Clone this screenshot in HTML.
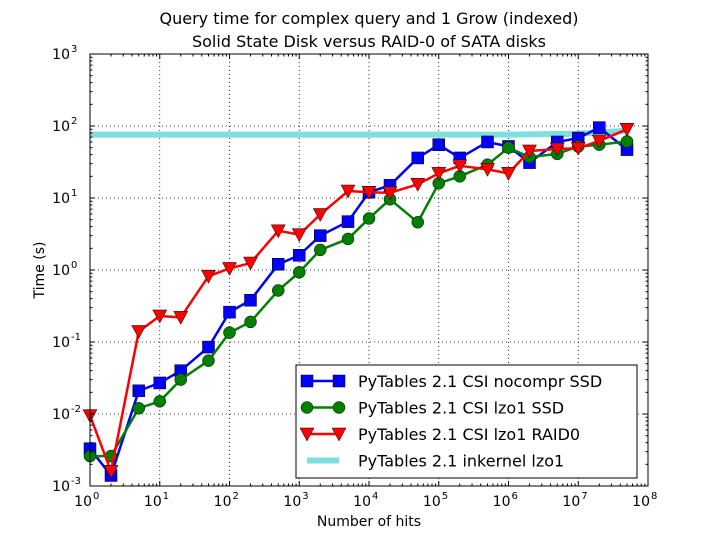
<!DOCTYPE html>
<html><head><meta charset="utf-8"><style>
body{margin:0;background:#fff}
svg text{font-family:"DejaVu Sans","Liberation Sans",sans-serif;fill:#000}
</style></head><body>
<svg id="chart" width="720" height="540" xmlns="http://www.w3.org/2000/svg">
<rect width="720" height="540" fill="#fff"/>
<text x="369" y="24" font-size="16" text-anchor="middle">Query time for complex query and 1 Grow (indexed)</text>
<text x="369" y="47" font-size="16" text-anchor="middle">Solid State Disk versus RAID-0 of SATA disks</text>
<g id="grid"></g>
<g id="series"></g>
<rect x="90" y="54" width="558" height="432" fill="none" stroke="#000" stroke-width="1"/>
<g id="ticks"></g>
<text x="369" y="526" font-size="14" text-anchor="middle">Number of hits</text>
<text x="44" y="270" font-size="14" text-anchor="middle" transform="rotate(-90 44 270)">Time (s)</text>
<g id="legend"></g>
</svg>
<script>
const xs=[1,2,5,10,20,50,100,200,500,1e3,2e3,5e3,1e4,2e4,5e4,1e5,2e5,5e5,1e6,2e6,5e6,1e7,2e7,5e7];
const blueVals=[0.0033,0.0014,0.021,0.027,0.04,0.085,0.26,0.38,1.2,1.6,3.0,4.7,12,15,36,55,36,60,52,31,60,68,95,47];
const greenVals=[0.0026,0.0026,0.012,0.015,0.03,0.055,0.135,0.19,0.52,0.93,1.9,2.7,5.2,9.6,4.6,16,20,29,50,37,41,52,55,61];
const redVals=[0.0095,0.0016,0.14,0.23,0.22,0.82,1.05,1.25,3.5,3.1,5.9,12.5,12,11.8,15.5,22,28,25,22,45,48,49,62,90];
const cyanX=[1,1e6,1e7,5e7];
const cyanVals=[76,76,78,86];
const xTickLabels=["0","1","2","3","4","5","6","7","8"];
const yTickLabels=["-3","-2","-1","0","1","2","3"];
const NS="http://www.w3.org/2000/svg";
const L=90,R=648,T=54,B=486;
const X=v=>L+(Math.log10(v)-0)/8*(R-L);
const Y=v=>B-(Math.log10(v)+3)/6*(B-T);
function mk(tag,attrs,parent){const e=document.createElementNS(NS,tag);for(const k in attrs)e.setAttribute(k,attrs[k]);parent.appendChild(e);return e;}
const grid=document.getElementById('grid'),ticks=document.getElementById('ticks'),ser=document.getElementById('series'),leg=document.getElementById('legend');
xTickLabels.forEach((lab,i)=>{const x=X(Math.pow(10,+lab));
 if(i>0&&i<8){const g=mk('line',{x1:x,x2:x,y1:T,y2:B,stroke:'#000','stroke-dasharray':'1,3','stroke-width':0.8},grid);}
 for(const [y1,y2] of [[B,B-5],[T,T+5]]) mk('line',{x1:x,x2:x,y1:y1,y2:y2,stroke:'#000'},ticks);
 if(i<8)for(let m=2;m<10;m++){const xm=X(m*Math.pow(10,+lab));mk('line',{x1:xm,x2:xm,y1:B,y2:B-2.5,stroke:'#000'},ticks);mk('line',{x1:xm,x2:xm,y1:T,y2:T+2.5,stroke:'#000'},ticks);}
 const t=mk('text',{x:x+2,y:B+20,'font-size':14,'text-anchor':'end'},ticks);t.textContent='10';
 
 const s=mk('text',{x:x+3,y:B+13,'font-size':10},ticks);s.textContent=lab;});
yTickLabels.forEach((lab,i)=>{const y=Y(Math.pow(10,+lab));
 if(i>0&&i<6){const g=mk('line',{x1:L,x2:R,y1:y,y2:y,stroke:'#000','stroke-dasharray':'1,3','stroke-width':0.8},grid);}
 mk('line',{x1:L,x2:L+5,y1:y,y2:y,stroke:'#000'},ticks);mk('line',{x1:R,x2:R-5,y1:y,y2:y,stroke:'#000'},ticks);
 if(i<6)for(let m=2;m<10;m++){const ym=Y(m*Math.pow(10,+lab));mk('line',{x1:L,x2:L+2.5,y1:ym,y2:ym,stroke:'#000'},ticks);mk('line',{x1:R,x2:R-2.5,y1:ym,y2:ym,stroke:'#000'},ticks);}
 const t=mk('text',{x:70,y:y+5,'font-size':14,'text-anchor':'end'},ticks);t.textContent='10';
 
 const s=mk('text',{x:71,y:y-2,'font-size':10},ticks);s.textContent=lab;});
function line(xv,yv,color,w,name){const p=mk('polyline',{points:xv.map((x,i)=>X(x)+','+Y(yv[i])).join(' '),fill:'none',stroke:color,'stroke-width':w,'stroke-linejoin':'round'},ser);}
function marker(kind,x,y,color,parent){let e;
 if(kind==='s')e=mk('rect',{x:x-6,y:y-6,width:12,height:12,fill:color,stroke:'#000','stroke-width':0.5},parent);
 else if(kind==='o')e=mk('circle',{cx:x,cy:y,r:6,fill:color,stroke:'#000','stroke-width':0.5},parent);
 else e=mk('polygon',{points:`${x-7},${y-6} ${x+7},${y-6} ${x},${y+7}`,fill:color,stroke:'#000','stroke-width':0.5},parent);
 return e;}
line(cyanX,cyanVals,'#7fdfdf',6,'inkernel-lzo1-line');
[[blueVals,'#0000ff','s','nocompr-ssd'],[greenVals,'#008000','o','lzo1-ssd'],[redVals,'#ff0000','v','lzo1-raid0']].forEach(([vals,c,k,n])=>{
 line(xs,vals,c,2.5,n+'-line');
 vals.forEach((v,i)=>{const m=marker(k,X(xs[i]),Y(v),c,ser);});});
const box=mk('rect',{x:296,y:365,width:341,height:113,fill:'#fff',stroke:'#000','stroke-width':1},leg);
const entries=[['PyTables 2.1 CSI nocompr SSD','#0000ff','s'],['PyTables 2.1 CSI lzo1 SSD','#008000','o'],['PyTables 2.1 CSI lzo1 RAID0','#ff0000','v'],['PyTables 2.1 inkernel lzo1','#7fdfdf','l']];
entries.forEach(([lab,c,k],i)=>{const y=381+i*26.5;
 const g=mk('g',{},leg);
 if(k==='l')mk('line',{x1:307,x2:339,y1:y,y2:y,stroke:c,'stroke-width':6},g);
 else{mk('line',{x1:307,x2:339,y1:y,y2:y,stroke:c,'stroke-width':2.5},g);marker(k,307,y,c,g);marker(k,339,y,c,g);}
 const t=mk('text',{x:358,y:y+6,'font-size':16},g);t.textContent=lab;});
</script>
</body></html>
